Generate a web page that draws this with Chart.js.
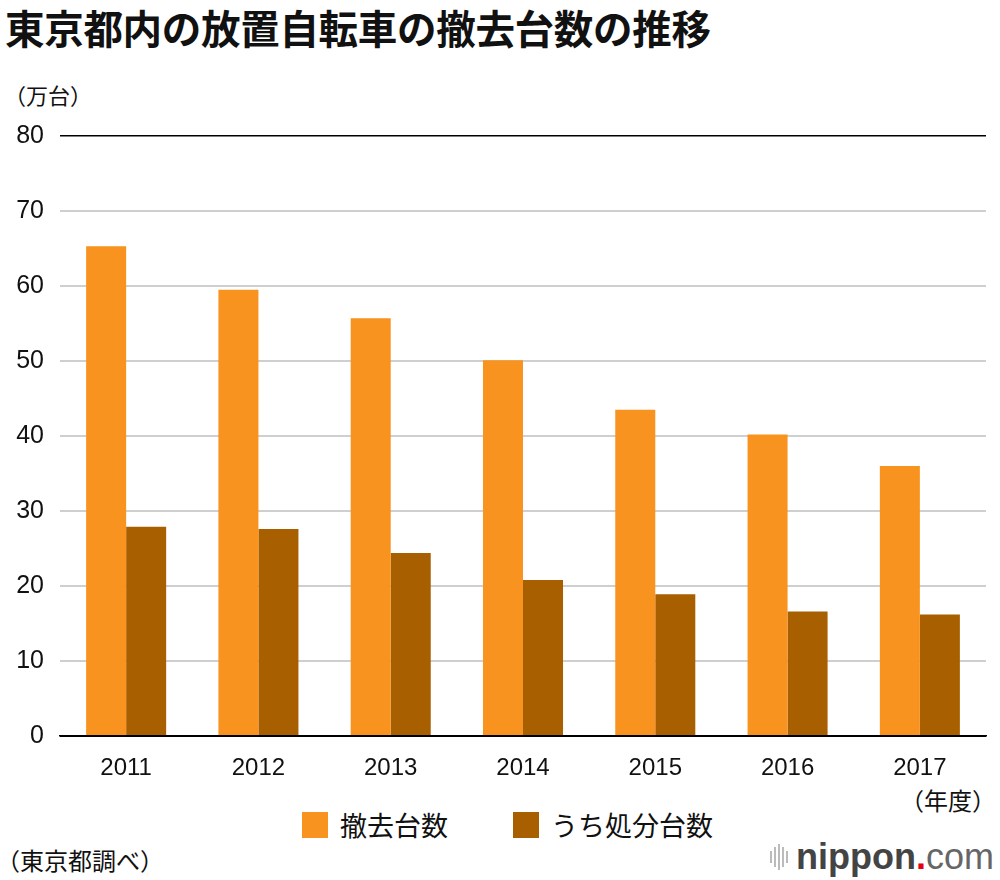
<!DOCTYPE html>
<html>
<head>
<meta charset="utf-8">
<script src="https://cdn.jsdelivr.net/npm/chart.js@4.4.0/dist/chart.umd.min.js"></script>
<style>
  body { margin: 0; background: #fff; width: 1000px; height: 880px; position: relative; overflow: hidden;
         font-family: "Noto Sans CJK JP", "Noto Sans", sans-serif; color: #111; }
  .abs { position: absolute; white-space: nowrap; }
  #title { left: 5px; top: 0px; font-size: 39.5px; font-weight: bold; line-height: 54px; letter-spacing: -0.3px; }
  #unit { left: 4px; top: 78px; font-size: 22px; line-height: 32px; }
  #nendo { left: 900px; top: 784px; font-size: 24px; line-height: 32px; }
  #source { left: -4px; top: 843px; font-size: 24px; line-height: 34px; }
  #chartBox { left: 0; top: 105px; width: 1000px; height: 675px; }
  .legend { top: 806px; font-size: 27px; line-height: 38px; display: flex; align-items: center; }
  .legend span.sw { display: inline-block; width: 26px; height: 26px; margin-right: 12px; }
  #logo { left: 770px; top: 836px; font-family: "Liberation Sans", "DejaVu Sans", sans-serif; font-size: 36px; line-height: 42px; color: #444; display: flex; align-items: center; }
  #logo .bars { display: inline-flex; align-items: center; margin-right: 6px; }
  #logo .bars i { display: inline-block; width: 2px; background: #bbb; margin-right: 2px; }
</style>
</head>
<body>
<div id="title" class="abs">東京都内の放置自転車の撤去台数の推移</div>
<div id="unit" class="abs">（万台）</div>
<div id="chartBox" class="abs"><canvas id="chart"></canvas></div>
<div id="nendo" class="abs">（年度）</div>
<div class="abs legend" style="left:302px;"><span class="sw" style="background:#F7931E"></span>撤去台数</div>
<div class="abs legend" style="left:513px;"><span class="sw" style="background:#A85F00"></span>うち処分台数</div>
<div id="source" class="abs">（東京都調べ）</div>
<div id="logo" class="abs">
  <span class="bars"><i style="height:12px"></i><i style="height:20px"></i><i style="height:26px"></i><i style="height:20px"></i><i style="height:12px"></i></span>
  <b style="color:#444">nippon</b><span style="color:#e60012;font-weight:bold">.</span><span style="color:#666;font-weight:300">com</span>
</div>
<script>
const years = ['2011', '2012', '2013', '2014', '2015', '2016', '2017'];
const removed = [65.3, 59.5, 55.7, 50.1, 43.5, 40.2, 36.0];
const disposed = [27.9, 27.6, 24.4, 20.8, 18.9, 16.6, 16.2];
const yTicks = [0, 10, 20, 30, 40, 50, 60, 70, 80];

const ctx = document.getElementById('chart').getContext('2d');
new Chart(ctx, {
    type: 'bar',
    data: {
        labels: years,
        datasets: [{
            label: '撤去台数',
            data: removed,
            backgroundColor: '#F7931E',
            barPercentage: 1.0,
            categoryPercentage: 0.605
        }, {
            label: 'うち処分台数',
            data: disposed,
            backgroundColor: '#A85F00',
            barPercentage: 1.0,
            categoryPercentage: 0.605
        }]
    },
    options: {
        responsive: true,
        maintainAspectRatio: false,
        animation: false,
        layout: { padding: { top: 24, right: 14, left: 0, bottom: 0 } },
        plugins: { legend: { display: false }, tooltip: { enabled: false } },
        scales: {
            x: {
                grid: { display: false },
                border: { display: true, color: '#000', width: 1.5 },
                ticks: { color: '#111', padding: 10, font: { family: 'Liberation Sans', size: 24 } },
                afterFit: function (scale) { scale.height = 44; }
            },
            y: {
                min: 0,
                max: 80,
                afterBuildTicks: function (scale) { scale.ticks = yTicks.map(v => ({ value: v })); },
                grid: {
                    drawTicks: false,
                    color: c => (c.tick && (c.tick.value === 80 || c.tick.value === 0)) ? '#000' : '#cfcfcf',
                    lineWidth: c => (c.tick && c.tick.value === 80) ? 1.5 : 2
                },
                border: { display: false },
                ticks: { color: '#111', padding: 16, font: { family: 'Liberation Sans', size: 25 } },
                afterFit: function (scale) { scale.width = 60; }
            }
        }
    }
});
</script>
</body>
</html>
